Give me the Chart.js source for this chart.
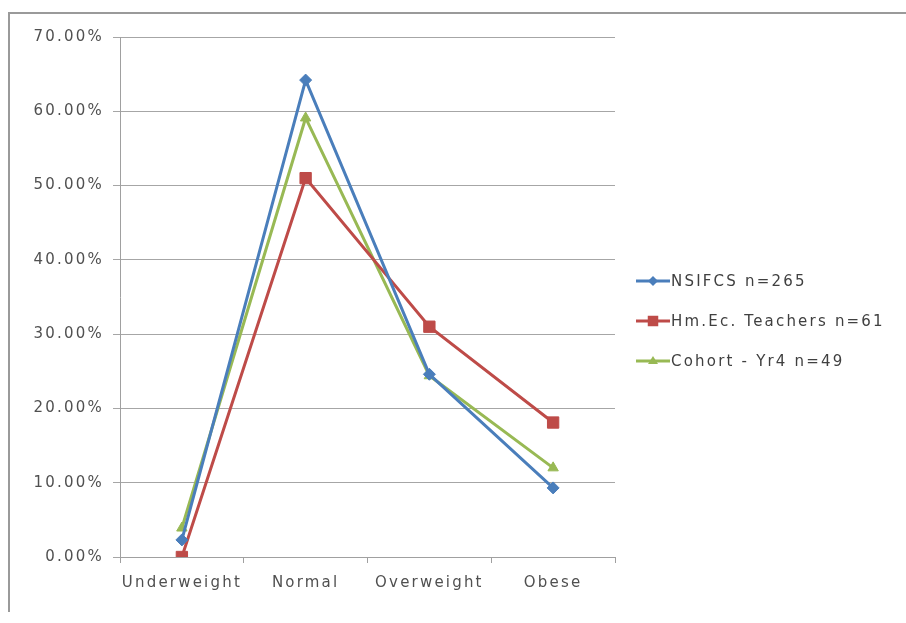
<!DOCTYPE html>
<html>
<head>
<meta charset="utf-8">
<script src="https://cdn.jsdelivr.net/npm/chart.js@4.4.1/dist/chart.umd.min.js"></script>
<style>
  html, body { margin: 0; padding: 0; background: #fff; }
  #wrap { position: relative; width: 906px; height: 623px; }
</style>
</head>
<body>
<div id="wrap"><canvas id="bmiChart" width="906" height="623"></canvas></div>
<script>
var categories = ['Underweight', 'Normal', 'Overweight', 'Obese'];
var seriesNames = ['NSIFCS n=265', 'Hm.Ec. Teachers n=61', 'Cohort - Yr4 n=49'];
var nsifcs = [2.3, 64.2, 24.6, 9.3];
var teachers = [0.0, 51.0, 31.0, 18.1];
var cohort = [3.9, 59.1, 24.4, 12.0];

var colors = ['#4a7ebb', '#be4b48', '#98b954'];
var markers = ['rectRot', 'rect', 'triangle'];
var markerSize = [6, 8, 6];

var FONT = 'DejaVu Sans';
var SPACING = '2.2px';

var datasets = [nsifcs, teachers, cohort].map(function (values, i) {
  return {
    label: seriesNames[i],
    data: values,
    borderColor: colors[i],
    backgroundColor: colors[i],
    borderWidth: 3,
    pointStyle: markers[i],
    pointRadius: markerSize[i],
    pointHoverRadius: markerSize[i],
    pointBorderWidth: 1,
    tension: 0
  };
});

// frame, letter spacing and legend drawn by hand
var extras = {
  id: 'extras',
  beforeDraw: function (chart) {
    chart.ctx.letterSpacing = SPACING;
  },
  afterDraw: function (chart) {
    var ctx = chart.ctx;
    ctx.save();
    ctx.strokeStyle = '#9a9a9a';
    ctx.lineWidth = 2;
    ctx.beginPath();
    ctx.moveTo(9, 612);
    ctx.lineTo(9, 13);
    ctx.lineTo(906, 13);
    ctx.stroke();

    ctx.letterSpacing = '2.2px';
    ctx.font = '15px "' + FONT + '"';
    ctx.textBaseline = 'middle';
    ctx.textAlign = 'left';
    for (var i = 0; i < datasets.length; i++) {
      var y = 281 + i * 40;
      ctx.strokeStyle = colors[i];
      ctx.lineWidth = 3;
      ctx.beginPath();
      ctx.moveTo(636, y);
      ctx.lineTo(670, y);
      ctx.stroke();
      ctx.fillStyle = colors[i];
      var cx = 653, r = markerSize[i] - 1;
      ctx.beginPath();
      if (markers[i] === 'rectRot') {
        ctx.moveTo(cx, y - r); ctx.lineTo(cx + r, y); ctx.lineTo(cx, y + r); ctx.lineTo(cx - r, y);
      } else if (markers[i] === 'rect') {
        ctx.rect(cx - r * 0.75, y - r * 0.75, r * 1.5, r * 1.5);
      } else {
        ctx.moveTo(cx, y - r); ctx.lineTo(cx + r, y + r * 0.6); ctx.lineTo(cx - r, y + r * 0.6);
      }
      ctx.closePath();
      ctx.fill();
      ctx.fillStyle = '#404040';
      ctx.fillText(seriesNames[i], 671, y + 1);
    }
    ctx.restore();
  }
};

new Chart(document.getElementById('bmiChart'), {
  type: 'line',
  data: { labels: categories, datasets: datasets },
  plugins: [extras],
  options: {
    responsive: false,
    animation: false,
    layout: { padding: { left: 0, right: 291, top: 37, bottom: 0 } },
    plugins: {
      legend: { display: false },
      tooltip: { enabled: false }
    },
    scales: {
      x: {
        offset: true,
        grid: {
          offset: true,
          drawOnChartArea: false,
          color: '#a0a0a0',
          tickLength: 6
        },
        border: { color: '#a0a0a0', width: 1 },
        ticks: {
          color: '#505050',
          font: { family: FONT, size: 15 },
          padding: 11,
          maxRotation: 0
        },
        afterFit: function (scale) { scale.height = 66; }
      },
      y: {
        min: 0,
        max: 70,
        grid: {
          color: '#a6a6a6',
          lineWidth: 1,
          tickLength: 7
        },
        border: { color: '#a0a0a0', width: 1 },
        ticks: {
          stepSize: 10,
          color: '#505050',
          font: { family: FONT, size: 15 },
          padding: 9,
          callback: function (v) { return v.toFixed(2) + '%'; }
        },
        afterFit: function (scale) { scale.width = 120; }
      }
    }
  }
});
</script>
</body>
</html>
